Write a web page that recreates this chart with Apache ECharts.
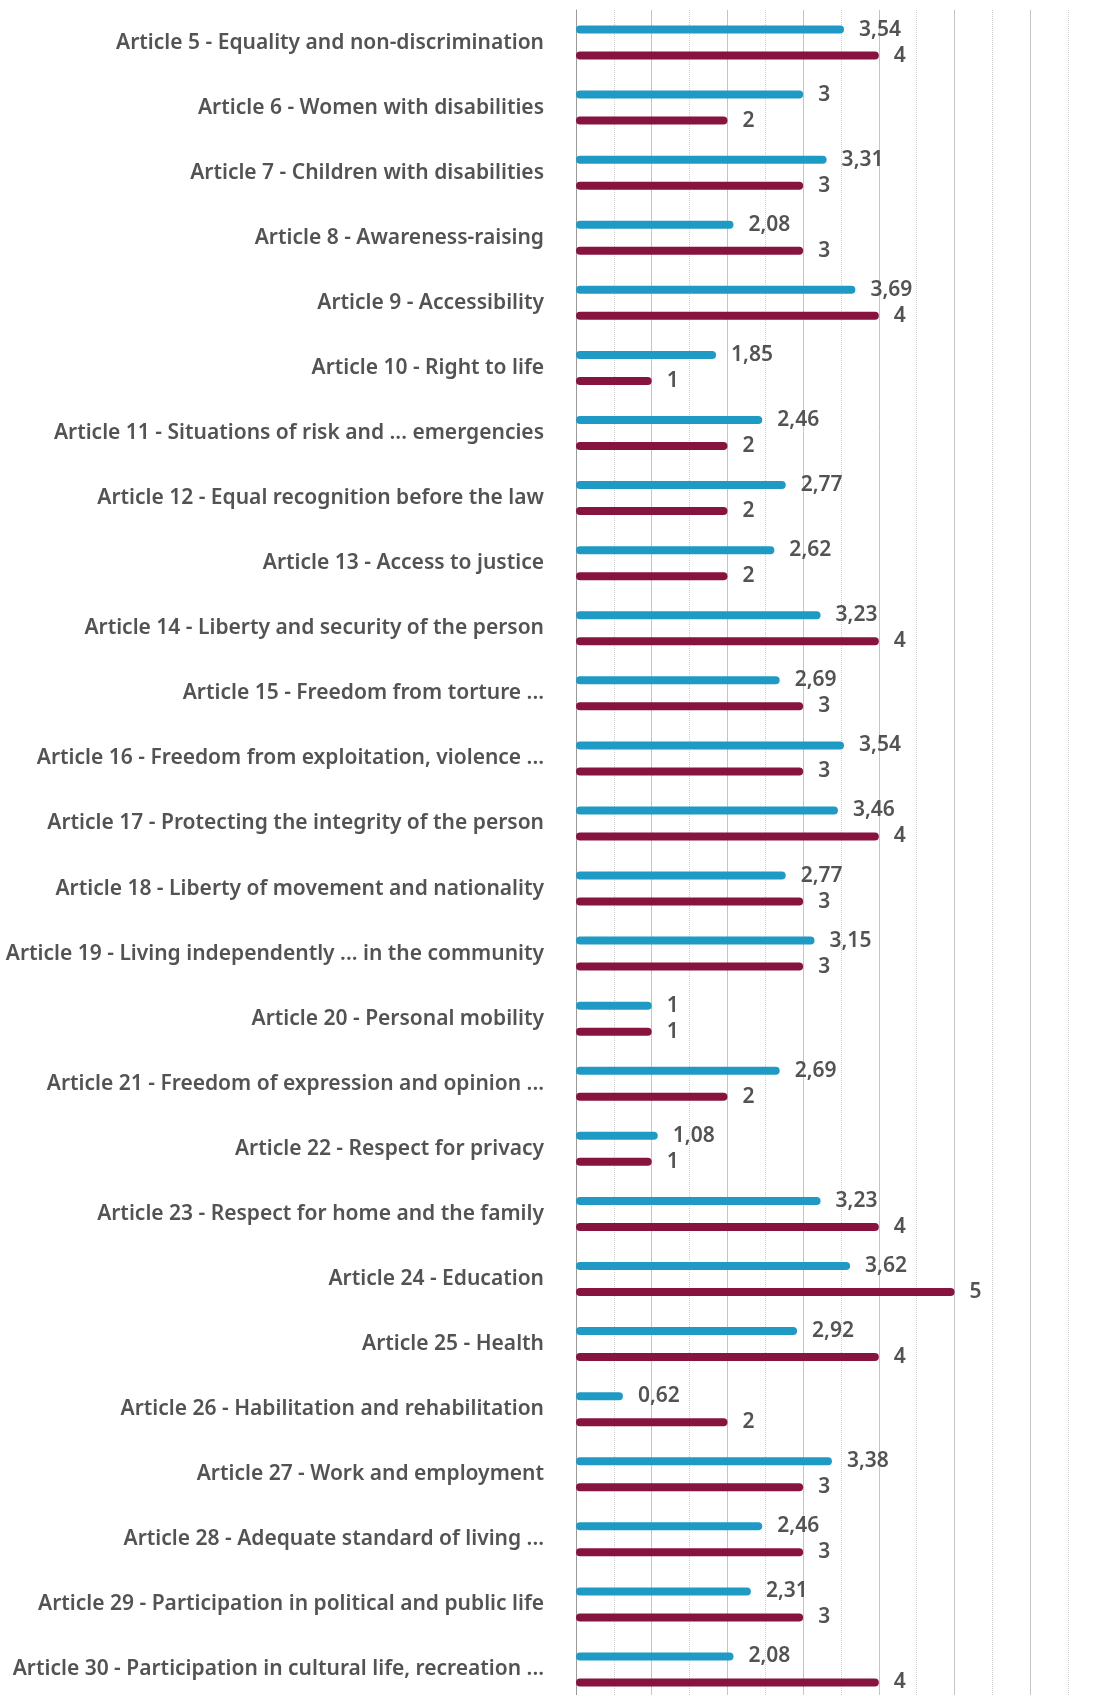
<!DOCTYPE html>
<html>
<head>
<meta charset="utf-8">
<title>CRPD articles</title>
<script src="https://cdn.jsdelivr.net/npm/echarts@6/dist/echarts.min.js"></script>
<style>
  html, body { margin: 0; padding: 0; background: #fff; }
  #chart { width: 1096px; height: 1695px; }
</style>
</head>
<body>
<div id="chart"></div>
<script>
  // categories, top to bottom
  var articles = [
    'Article 5 - Equality and non-discrimination',
    'Article 6 - Women with disabilities',
    'Article 7 - Children with disabilities',
    'Article 8 - Awareness-raising',
    'Article 9 - Accessibility',
    'Article 10 - Right to life',
    'Article 11 - Situations of risk and ... emergencies',
    'Article 12 - Equal recognition before the law',
    'Article 13 - Access to justice',
    'Article 14 - Liberty and security of the person',
    'Article 15 - Freedom from torture ...',
    'Article 16 - Freedom from exploitation, violence ...',
    'Article 17 - Protecting the integrity of the person',
    'Article 18 - Liberty of movement and nationality',
    'Article 19 - Living independently ... in the community',
    'Article 20 - Personal mobility',
    'Article 21 - Freedom of expression and opinion ...',
    'Article 22 - Respect for privacy',
    'Article 23 - Respect for home and the family',
    'Article 24 - Education',
    'Article 25 - Health',
    'Article 26 - Habilitation and rehabilitation',
    'Article 27 - Work and employment',
    'Article 28 - Adequate standard of living ...',
    'Article 29 - Participation in political and public life',
    'Article 30 - Participation in cultural life, recreation ...'
  ];

  // blue bars
  var blueValues = [3.54, 3, 3.31, 2.08, 3.69, 1.85, 2.46, 2.77, 2.62, 3.23, 2.69, 3.54, 3.46,
    2.77, 3.15, 1, 2.69, 1.08, 3.23, 3.62, 2.92, 0.62, 3.38, 2.46, 2.31, 2.08];

  // maroon bars
  var redValues = [4, 2, 3, 3, 4, 1, 2, 2, 2, 4, 3, 3, 4,
    3, 3, 1, 2, 1, 4, 5, 4, 2, 3, 3, 3, 4];

  var textColor = '#535353';
  var fontName = '"Noto Sans", sans-serif';

  function commaLabel(p) {
    return String(p.value).replace('.', ',');
  }

  function barSeries(values, color) {
    return {
      type: 'bar',
      data: values,
      barWidth: 8,
      barGap: '225%',
      itemStyle: { color: color, borderRadius: 4 },
      label: {
        show: true,
        position: 'right',
        distance: 15,
        formatter: commaLabel,
        color: textColor,
        fontFamily: fontName,
        fontWeight: 600,
        fontSize: 21
      },
      animation: false
    };
  }

  var chart = echarts.init(document.getElementById('chart'));
  chart.setOption({
    backgroundColor: '#fff',
    grid: {
      left: 576,
      top: 10,
      width: 530,
      height: 1692,
      // the plot runs a little past the right and bottom edges
      outerBoundsMode: 'none'
    },
    xAxis: {
      type: 'value',
      min: 0,
      max: 7,
      interval: 1,
      axisLabel: { show: false },
      axisLine: { show: false },
      axisTick: { show: false },
      splitLine: { show: true, lineStyle: { color: '#c4c4c4', width: 1 } },
      minorTick: { show: false, splitNumber: 2 },
      minorSplitLine: { show: true, lineStyle: { color: '#cfcfcf', type: 'dotted', width: 1 } }
    },
    yAxis: {
      type: 'category',
      inverse: true,
      data: articles,
      axisTick: { show: false },
      axisLine: { show: true, lineStyle: { color: '#9a9a9a', width: 1 } },
      axisLabel: {
        margin: 32,
        color: textColor,
        fontFamily: fontName,
        fontWeight: 600,
        fontSize: 21
      },
      splitLine: { show: false }
    },
    series: [
      barSeries(blueValues, '#1f9ac4'),
      barSeries(redValues, '#87133f')
    ]
  });
</script>
</body>
</html>
